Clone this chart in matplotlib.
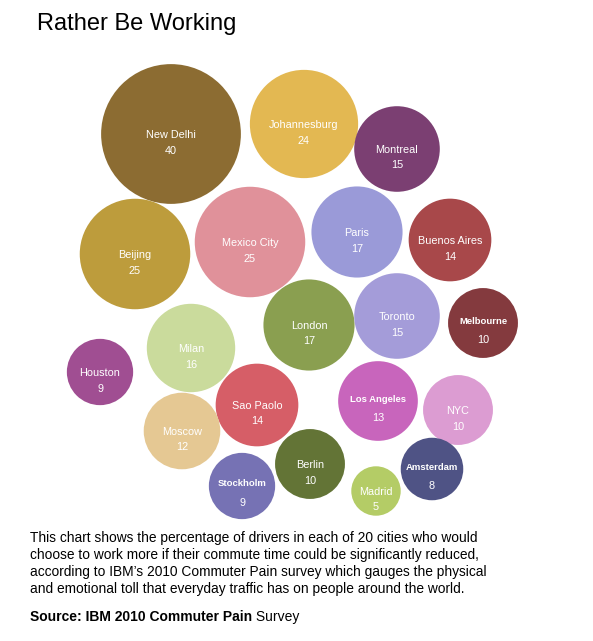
import numpy as np
import matplotlib.pyplot as plt
from matplotlib.patches import Circle

plt.rcParams['font.family'] = ['Liberation Sans', 'DejaVu Sans']

# Share of drivers who would rather work more (%)
cities = ["New Delhi", "Johannesburg", "Montreal", "Beijing", "Mexico City",
          "Paris", "Buenos Aires", "London", "Toronto", "Melbourne",
          "Milan", "Houston", "Sao Paolo", "Los Angeles", "NYC",
          "Moscow", "Berlin", "Amsterdam", "Stockholm", "Madrid"]
values = [40, 24, 15, 25, 25, 17, 14, 17, 15, 10, 16, 9, 14, 13, 10, 12, 10, 8, 9, 5]

# bubble layout (packed positions)
bubble_x = [171, 304, 397, 135, 250, 357, 450, 309, 397, 483,
            191, 100, 257, 378, 458, 182, 310, 432, 242, 376]
bubble_y = [134, 124, 149, 254, 242, 232, 240, 325, 316, 323,
            348, 372, 405, 401, 410, 431, 464, 469, 486, 491]

colors = ["#8C6C32", "#E3B852", "#7B3F72", "#BD9C3C", "#E0919A",
          "#9A9AD8", "#A8484A", "#8A9F50", "#A49CD9", "#843A3E",
          "#CADB9C", "#A04E92", "#D65E67", "#C865BC", "#DC9CD2",
          "#E5C893", "#637436", "#4F5385", "#7672B4", "#B4CC66"]
small_bold = {"Melbourne", "Los Angeles", "Amsterdam", "Stockholm"}

fig = plt.figure(figsize=(5.93, 6.41), dpi=100)
ax = fig.add_axes([0, 0, 1, 1])
ax.set_xlim(0, 593)
ax.set_ylim(641, 0)
ax.set_aspect('equal')
ax.axis('off')

scale = 11.05  # radius per sqrt(value), area-proportional bubbles
for name, v, x, y, c in zip(cities, values, bubble_x, bubble_y, colors):
    ax.add_patch(Circle((x, y), scale * np.sqrt(v), facecolor=c, edgecolor='none'))
    if name in small_bold:
        ax.text(x, y - 2, name, color='white', fontsize=6.8, fontweight='bold',
                ha='center', va='center')
        ax.text(x, y + 17, str(v), color='white', fontsize=7.8, ha='center', va='center')
    else:
        ax.text(x, y + 1, name, color='white', fontsize=7.8, ha='center', va='center')
        ax.text(x, y + 16.5, str(v), color='white', fontsize=7.8, ha='center', va='center')

ax.text(37, 24, "Rather Be Working", fontsize=17, ha='left', va='center', color='black')

desc = ["This chart shows the percentage of drivers in each of 20 cities who would",
        "choose to work more if their commute time could be significantly reduced,",
        "according to IBM\u2019s 2010 Commuter Pain survey which gauges the physical",
        "and emotional toll that everyday traffic has on people around the world."]
for i, line in enumerate(desc):
    ax.text(30, 538 + i * 17, line, fontsize=9.9, ha='left', va='center', color='black')

src = ax.text(30, 617, "Source: IBM 2010 Commuter Pain", fontsize=10, fontweight='bold',
              ha='left', va='center', color='black')
fig.canvas.draw()
bb = src.get_window_extent().transformed(ax.transData.inverted())
ax.text(bb.x1, 617, " Survey", fontsize=10, ha='left', va='center', color='black')

fig.savefig("out.png", dpi=100)
